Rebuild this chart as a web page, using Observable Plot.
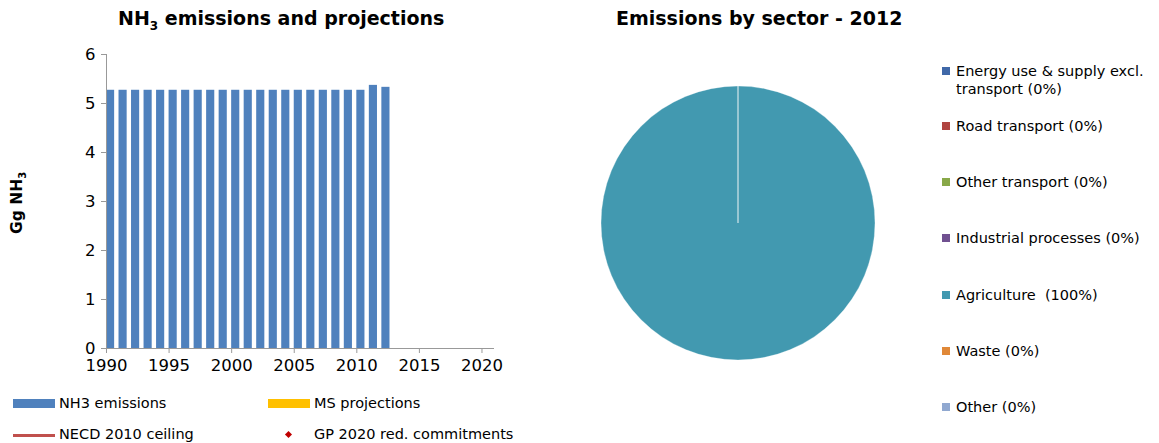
<!DOCTYPE html>
<html lang="en">
<head>
<meta charset="UTF-8">
<title>NH3 emissions</title>
<script src="https://cdn.jsdelivr.net/npm/d3@7"></script>
<script src="https://cdn.jsdelivr.net/npm/@observablehq/plot@0.6"></script>
<style>
  body { margin: 0; background: #fff; font-family: "DejaVu Sans", Verdana, sans-serif; color: #000; }
  #page { position: relative; width: 1159px; height: 443px; overflow: hidden; }
  .abs { position: absolute; white-space: nowrap; }
  .title { font-weight: bold; font-size: 19px; }
  .leg { font-size: 14.5px; }
  .sw { position: absolute; width: 8px; height: 8px; }
</style>
</head>
<body>
<div id="page">
  <div class="abs title" style="left:118px;top:7px;">NH<sub style="font-size:12px">3</sub> emissions and projections</div>
  <div class="abs title" style="left:616px;top:7px;">Emissions by sector - 2012</div>
  <div class="abs" style="left:8px;top:234px;transform:rotate(-90deg);transform-origin:left top;font-weight:bold;font-size:15.5px;">Gg NH<sub style="font-size:10px">3</sub></div>
  <div id="bars" class="abs" style="left:0;top:0;"></div>
  <div id="pie" class="abs" style="left:590px;top:75px;"></div>
  <div id="legend"></div>
  <div id="bottom"></div>
</div>
<script>
const years = d3.range(1990, 2013);
const emissions = [5.27,5.27,5.27,5.27,5.27,5.27,5.27,5.27,5.27,5.27,5.27,5.27,5.27,5.27,5.27,5.27,5.27,5.27,5.27,5.27,5.27,5.37,5.33];

const sectors = ["Energy use & supply excl.\ntransport (0%)", "Road transport (0%)", "Other transport (0%)",
  "Industrial processes (0%)", "Agriculture  (100%)", "Waste (0%)", "Other (0%)"];
const shares = [0, 0, 0, 0, 100, 0, 0];
const sectorColors = ["#4068a8", "#b04440", "#88a848", "#705090", "#4299b0", "#e08838", "#90a8d0"];

const barData = years.map((y, i) => ({year: y, value: emissions[i]}));

const bars = Plot.plot({
  width: 520, height: 390,
  marginLeft: 106, marginTop: 54, marginBottom: 42, marginRight: 26,
  style: {fontFamily: "DejaVu Sans", fontSize: "16.5px", color: "#000", overflow: "visible"},
  x: {domain: [1990, 2021], ticks: d3.range(1990, 2021, 5), tickFormat: d => String(d), label: null, tickSize: 5, tickPadding: 6},
  y: {domain: [0, 6], ticks: 6, label: null, tickSize: 5, tickPadding: 6},
  marks: [
    Plot.rectY(barData, {x1: "year", x2: d => d.year + 0.65, y: "value", fill: "#4f81bd"}),
    Plot.ruleY([0], {stroke: "#999"}),
    Plot.ruleX([1990], {stroke: "#999"})
  ]
});
bars.querySelectorAll("[aria-label='x-axis tick'] path, [aria-label='y-axis tick'] path").forEach(p => p.setAttribute("stroke", "#999"));
document.getElementById("bars").appendChild(bars);

// pie
const pieData = d3.pie().sort(null).value(d => d.share)(sectors.map((s, i) => ({s, share: shares[i], color: sectorColors[i]})));
const arc = d3.arc().innerRadius(0).outerRadius(137);
const pie = Plot.plot({
  width: 296, height: 296, margin: 0,
  x: {domain: [-148, 148], axis: null},
  y: {domain: [-148, 148], axis: null},
  marks: [
    (index, scales, values, dims) => {
      const g = d3.create("svg:g").attr("transform", `translate(${scales.x(0)},${scales.y(0)})`);
      g.selectAll("path").data(pieData).join("path")
        .attr("d", arc).attr("fill", d => d.data.color)
        .attr("stroke", "#fff").attr("stroke-width", 0.3);
      return g.node();
    }
  ]
});
pie.style.overflow = "visible";
document.getElementById("pie").appendChild(pie);

// sector legend
const legTops = [62, 117, 173, 229, 286, 342, 398];
const legend = document.getElementById("legend");
sectors.forEach((s, i) => {
  legend.insertAdjacentHTML("beforeend",
    `<div class="sw" style="left:942px;top:${legTops[i] + 5}px;background:${sectorColors[i]}"></div>` +
    `<div class="abs leg" style="left:956px;top:${legTops[i]}px;line-height:18px;white-space:pre;">${s.replace("&", "&amp;")}</div>`);
});

// bottom legend
document.getElementById("bottom").innerHTML = `
  <div class="abs" style="left:13px;top:399px;width:42px;height:9px;background:#4f81bd"></div>
  <div class="abs leg" style="left:59px;top:395px;">NH3 emissions</div>
  <div class="abs" style="left:268px;top:399px;width:42px;height:9px;background:#ffc000"></div>
  <div class="abs leg" style="left:314px;top:395px;">MS projections</div>
  <div class="abs" style="left:13px;top:434px;width:42px;height:3px;background:#c0504d"></div>
  <div class="abs leg" style="left:59px;top:426px;">NECD 2010 ceiling</div>
  <div class="abs" style="left:286px;top:432px;width:5px;height:5px;background:#c00000;transform:rotate(45deg)"></div>
  <div class="abs leg" style="left:314px;top:426px;">GP 2020 red. commitments</div>`;
</script>
</body>
</html>
